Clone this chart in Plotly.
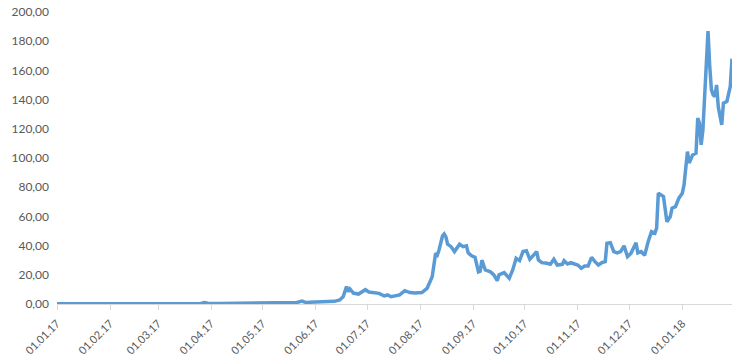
import plotly.graph_objects as go

dates = [
    "2017-01-01", "2017-01-15", "2017-02-01", "2017-02-15", "2017-03-01", "2017-03-17",
    "2017-03-26", "2017-03-28", "2017-03-30", "2017-04-06", "2017-04-21", "2017-04-28",
    "2017-05-11", "2017-05-21", "2017-05-24", "2017-05-26", "2017-06-01", "2017-06-08",
    "2017-06-12", "2017-06-15", "2017-06-17", "2017-06-19", "2017-06-20", "2017-06-21",
    "2017-06-23", "2017-06-26", "2017-06-30", "2017-07-02", "2017-07-05", "2017-07-08",
    "2017-07-11", "2017-07-13", "2017-07-15", "2017-07-18", "2017-07-20", "2017-07-23",
    "2017-07-26", "2017-07-29", "2017-08-02", "2017-08-05", "2017-08-07", "2017-08-08",
    "2017-08-10", "2017-08-11", "2017-08-12", "2017-08-14", "2017-08-15", "2017-08-16",
    "2017-08-17", "2017-08-19", "2017-08-21", "2017-08-23", "2017-08-24", "2017-08-26",
    "2017-08-28", "2017-08-29", "2017-08-31", "2017-09-02", "2017-09-04", "2017-09-05",
    "2017-09-06", "2017-09-08", "2017-09-11", "2017-09-13", "2017-09-15", "2017-09-16",
    "2017-09-19", "2017-09-22", "2017-09-24", "2017-09-26", "2017-09-28", "2017-09-30",
    "2017-10-02", "2017-10-04", "2017-10-05", "2017-10-08", "2017-10-09", "2017-10-11",
    "2017-10-14", "2017-10-16", "2017-10-18", "2017-10-20", "2017-10-23", "2017-10-24",
    "2017-10-26", "2017-10-28", "2017-10-30", "2017-11-01", "2017-11-03", "2017-11-05",
    "2017-11-07", "2017-11-09", "2017-11-11", "2017-11-13", "2017-11-15", "2017-11-17",
    "2017-11-18", "2017-11-20", "2017-11-22", "2017-11-24", "2017-11-26", "2017-11-28",
    "2017-11-30", "2017-12-02", "2017-12-05", "2017-12-06", "2017-12-08", "2017-12-10",
    "2017-12-12", "2017-12-14", "2017-12-16", "2017-12-17", "2017-12-18", "2017-12-20",
    "2017-12-21", "2017-12-23", "2017-12-25", "2017-12-26", "2017-12-28", "2017-12-30",
    "2018-01-01", "2018-01-02", "2018-01-04", "2018-01-05", "2018-01-07", "2018-01-09",
    "2018-01-10", "2018-01-11", "2018-01-12", "2018-01-13", "2018-01-16", "2018-01-17",
    "2018-01-18", "2018-01-19", "2018-01-20", "2018-01-21", "2018-01-22", "2018-01-24",
    "2018-01-25", "2018-01-27", "2018-01-29", "2018-01-30",
]

prices = [
    0.14, 0.15, 0.14, 0.16, 0.17, 0.2,
    0.35, 1.0, 0.5, 0.3, 0.35, 0.7,
    0.8, 1.0, 2.0, 1.1, 1.4, 1.6,
    1.8, 2.8, 5.0, 12.0, 8.5, 10.3,
    7.5, 6.8, 9.8, 8.2, 8.0, 7.3,
    5.5, 6.2, 5.0, 5.8, 6.2, 9.1,
    7.8, 7.6, 7.8, 10.7, 15.3, 18.7,
    34.7, 33.5, 37.0, 46.6, 48.0, 46.0,
    41.0, 39.3, 35.9, 39.3, 41.0, 39.3,
    39.8, 35.0, 33.0, 32.0, 22.0, 22.5,
    30.0, 23.3, 22.0, 20.0, 16.0, 20.0,
    21.5, 17.6, 23.3, 31.3, 29.7, 35.9,
    36.5, 30.6, 32.0, 35.9, 30.2, 28.3,
    27.9, 27.2, 30.6, 26.7, 27.2, 29.7,
    27.4, 28.3, 27.4, 26.7, 24.5, 26.0,
    26.0, 32.0, 29.0, 26.7, 28.3, 29.0,
    41.6, 42.0, 35.9, 35.0, 35.9, 39.8,
    32.5, 34.7, 42.0, 35.0, 35.9, 33.3,
    42.5, 49.6, 48.5, 52.0, 75.9, 74.7,
    73.6, 56.4, 59.9, 65.6, 66.7, 72.5,
    75.9, 81.6, 104.4, 96.5, 102.0, 103.3,
    127.3, 123.9, 109.0, 119.0, 187.0, 162.7,
    146.7, 143.3, 142.0, 150.0, 135.0, 122.7,
    137.6, 138.7, 149.0, 168.0,
]

x_range = ["2017-01-01", "2018-01-30"]
y_range = [0, 200]

fig = go.Figure(
    go.Scatter(
        x=dates, y=prices, mode="lines",
        line=dict(color="#5B9BD5", width=3.5),
        hoverinfo="x+y",
    )
)

font_color = "#595959"
fig.update_layout(
    width=750, height=362,
    margin=dict(l=57, r=18, t=12, b=58),
    paper_bgcolor="white", plot_bgcolor="white",
    showlegend=False,
    separators=",.",
    font=dict(family="Lato, Open Sans, sans-serif", size=12, color=font_color),
)
fig.update_xaxes(
    type="date", range=x_range, automargin=False,
    dtick="M1", tick0="2017-01-01", tickformat="%d.%m.%y",
    tickangle=-45,
    showgrid=False, zeroline=False,
    showline=True, linecolor="#D9D9D9", linewidth=1,
    ticks="outside", ticklen=5, tickcolor="#D9D9D9",
    ticklabelstandoff=3,
    tickfont=dict(size=11, color=font_color),
)
fig.update_yaxes(
    range=y_range, dtick=20, tickformat=".2f", automargin=False,
    showgrid=False, zeroline=False, showline=False,
    ticks="", ticklabelstandoff=7,
    tickfont=dict(size=12, color=font_color),
)

fig.write_html("out.html")
